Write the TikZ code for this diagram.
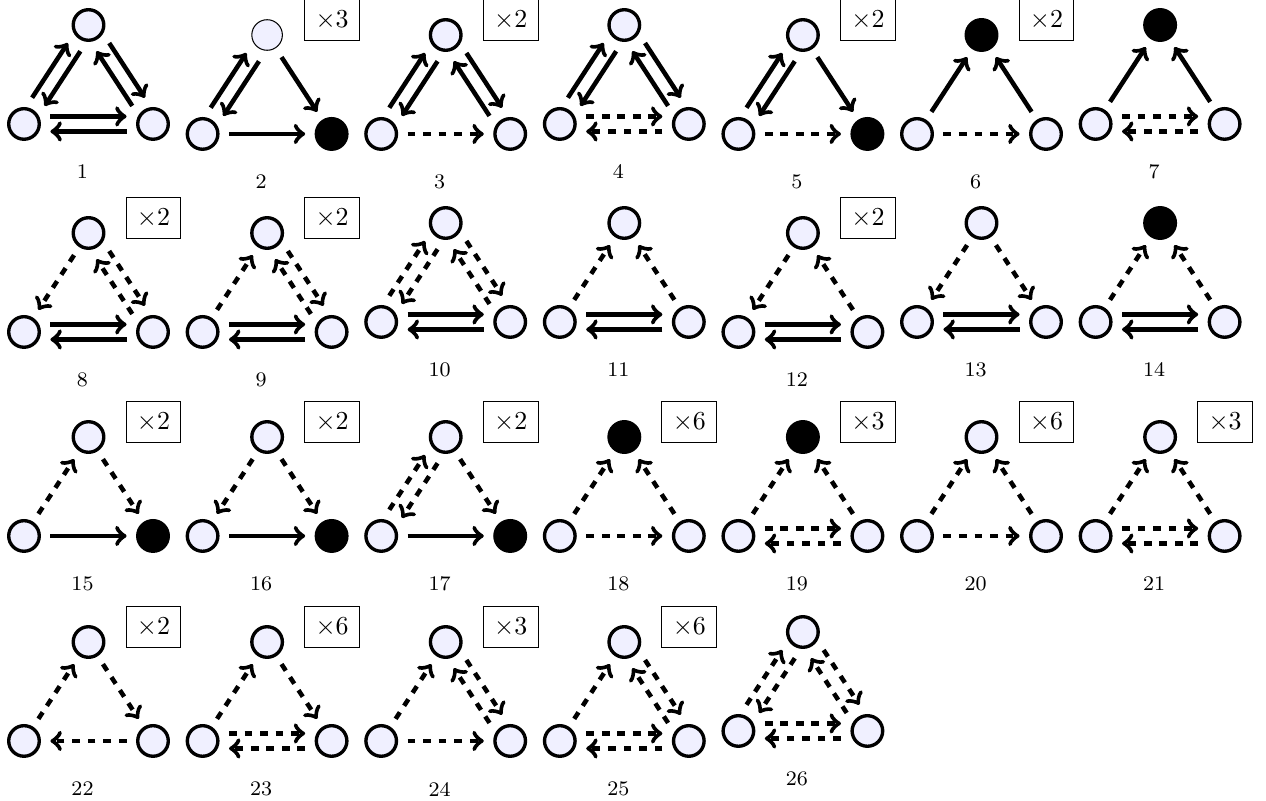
\documentclass[tikz,border=0pt]{standalone}
\usepackage{amsmath}
\usepackage{tikz}
\usetikzlibrary{positioning,calc}

% one motif: name, top node, label, multiplicity, node styles (t,l,r), arcs
\newcommand{\motif}[8]{%
 \node[#5] (#1t) at (#2) {};
 \node[#6] (#1l) [below left=38.2pt and 24.9pt of #1t] {};
 \node[#7] (#1r) [below right=38.2pt and 24.9pt of #1t] {};
 \node[font=\footnotesize] (#1n) at ($(#1t)+(-6,147)$) {#3};
 \if\relax\detokenize{#4}\relax\else
  \node[mult] (#1m) at ($(#1t)+(65,-15)$) {$\times#4$};
 \fi
 \foreach \a/\b/\s/\o in {#8}
  \draw[link,\s] ($(#1\a)!\o*2.9pt!90:(#1\b)$) -- ($(#1\b)!\o*2.9pt!-90:(#1\a)$);
}

\begin{document}
\begin{tikzpicture}[x=0.386pt,y=-0.386pt,on grid,
 vert/.style={circle,draw,line width=1.3pt,fill=blue!6,minimum size=11.8pt,inner sep=0pt},
 sink/.style={vert,fill=black},
 faint/.style={vert,thin},
 mult/.style={draw,thin,inner sep=4.2pt},
 link/.style={->,line width=1.75pt,shorten <=10.2pt,shorten >=10.2pt}]
 \useasboundingbox (0,0) rectangle (1266,801);

 \motif{g1}{88.5,25}{1}{}{vert}{vert}{vert}{l/t/solid/1,t/l/solid/1,t/r/solid/1,r/t/solid/1,l/r/solid/1,r/l/solid/1}
 \motif{g2}{267.1,35}{2}{3}{faint}{vert}{sink}{l/t/solid/1,t/l/solid/1,t/r/solid/0,l/r/solid/0}
 \motif{g3}{445.7,35}{3}{2}{vert}{vert}{vert}{l/t/solid/1,t/l/solid/1,t/r/solid/1,r/t/solid/1,l/r/dashed/0}
 \motif{g4}{624.3,25}{4}{}{vert}{vert}{vert}{l/t/solid/1,t/l/solid/1,t/r/solid/1,r/t/solid/1,l/r/dashed/1,r/l/dashed/1}
 \motif{g5}{802.9,35}{5}{2}{vert}{vert}{sink}{l/t/solid/1,t/l/solid/1,t/r/solid/0,l/r/dashed/0}
 \motif{g6}{981.5,35}{6}{2}{sink}{vert}{vert}{l/t/solid/0,r/t/solid/0,l/r/dashed/0}
 \motif{g7}{1160.1,25}{7}{}{sink}{vert}{vert}{l/t/solid/0,r/t/solid/0,l/r/dashed/1,r/l/dashed/1}

 \motif{g8}{88.5,233}{8}{2}{vert}{vert}{vert}{t/l/dashed/0,t/r/dashed/1,r/t/dashed/1,l/r/solid/1,r/l/solid/1}
 \motif{g9}{267.1,233}{9}{2}{vert}{vert}{vert}{l/t/dashed/0,t/r/dashed/1,r/t/dashed/1,l/r/solid/1,r/l/solid/1}
 \motif{g10}{445.7,223}{10}{}{vert}{vert}{vert}{l/t/dashed/1,t/l/dashed/1,t/r/dashed/1,r/t/dashed/1,l/r/solid/1,r/l/solid/1}
 \motif{g11}{624.3,223}{11}{}{vert}{vert}{vert}{l/t/dashed/0,r/t/dashed/0,l/r/solid/1,r/l/solid/1}
 \motif{g12}{802.9,233}{12}{2}{vert}{vert}{vert}{t/l/dashed/0,r/t/dashed/0,l/r/solid/1,r/l/solid/1}
 \motif{g13}{981.5,223}{13}{}{vert}{vert}{vert}{t/l/dashed/0,t/r/dashed/0,l/r/solid/1,r/l/solid/1}
 \motif{g14}{1160.1,223}{14}{}{sink}{vert}{vert}{l/t/dashed/0,r/t/dashed/0,l/r/solid/1,r/l/solid/1}

 \motif{g15}{88.5,437}{15}{2}{vert}{vert}{sink}{l/t/dashed/0,t/r/dashed/0,l/r/solid/0}
 \motif{g16}{267.1,437}{16}{2}{vert}{vert}{sink}{t/l/dashed/0,t/r/dashed/0,l/r/solid/0}
 \motif{g17}{445.7,437}{17}{2}{vert}{vert}{sink}{l/t/dashed/1,t/l/dashed/1,t/r/dashed/0,l/r/solid/0}
 \motif{g18}{624.3,437}{18}{6}{sink}{vert}{vert}{l/t/dashed/0,r/t/dashed/0,l/r/dashed/0}
 \motif{g19}{802.9,437}{19}{3}{sink}{vert}{vert}{l/t/dashed/0,r/t/dashed/0,l/r/dashed/1,r/l/dashed/1}
 \motif{g20}{981.5,437}{20}{6}{vert}{vert}{vert}{l/t/dashed/0,r/t/dashed/0,l/r/dashed/0}
 \motif{g21}{1160.1,437}{21}{3}{vert}{vert}{vert}{l/t/dashed/0,r/t/dashed/0,l/r/dashed/1,r/l/dashed/1}

 \motif{g22}{88.5,642}{22}{2}{vert}{vert}{vert}{l/t/dashed/0,t/r/dashed/0,r/l/dashed/0}
 \motif{g23}{267.1,642}{23}{6}{vert}{vert}{vert}{l/t/dashed/0,t/r/dashed/0,l/r/dashed/1,r/l/dashed/1}
 \motif{g24}{445.7,642}{24}{3}{vert}{vert}{vert}{l/t/dashed/0,t/r/dashed/1,r/t/dashed/1,l/r/dashed/0}
 \motif{g25}{624.3,642}{25}{6}{vert}{vert}{vert}{l/t/dashed/0,t/r/dashed/1,r/t/dashed/1,l/r/dashed/1,r/l/dashed/1}
 \motif{g26}{802.9,632}{26}{}{vert}{vert}{vert}{l/t/dashed/1,t/l/dashed/1,t/r/dashed/1,r/t/dashed/1,l/r/dashed/1,r/l/dashed/1}
\end{tikzpicture}
\end{document}
